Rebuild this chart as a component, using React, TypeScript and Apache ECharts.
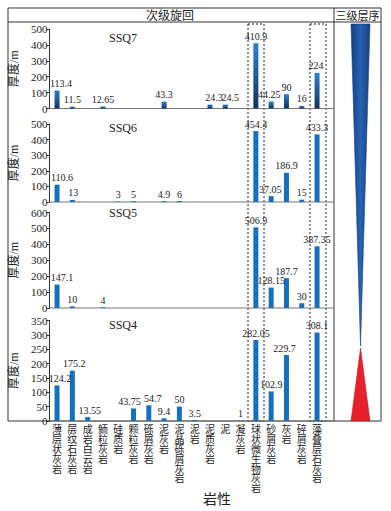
import React, { useEffect, useRef } from "react";
import * as echarts from "echarts";

const categories = [
  "薄层状灰岩", "层纹石灰岩", "成岩白云岩", "鲕粒灰岩", "硅质岩", "颗粒灰岩",
  "砾屑灰岩", "泥灰岩", "泥晶砾屑灰岩", "泥岩", "泥质灰岩", "泥", "凝灰岩",
  "球状微生物灰岩", "砂屑灰岩", "灰岩", "碎屑灰岩", "藻叠层石灰岩",
];

const ssq7 = [113.4, 11.5, null, 12.65, null, null, null, 43.3, null, null, 24.3, 24.5, null, 410.9, 44.25, 90, 16, 224];
const ssq6 = [110.6, 13, null, null, 3, 5, null, 4.9, 6, null, null, null, null, 454.4, 37.05, 186.9, 15, 433.3];
const ssq5 = [147.1, 10, null, 4, null, null, null, null, null, null, null, null, null, 506.9, 128.15, 187.7, 30, 387.35];
const ssq4 = [124.2, 175.2, 13.55, null, null, 43.75, 54.7, 9.4, 50, 3.5, null, null, 1, 282.05, 102.9, 229.7, null, 308.1];

const panelNames = ["SSQ7", "SSQ6", "SSQ5", "SSQ4"];
const yMax = [500, 500, 600, 350];
const yInterval = [100, 100, 100, 50];

// horizontal nudges of value labels (panel -> index -> dx)
const labelNudge: Record<number, Record<number, number>> = {
  0: { 0: 4, 10: 4, 11: 5, 14: -2, 17: -1 },
  1: { 0: 5, 1: 1, 14: -1 },
  2: { 0: 5 },
  3: { 0: 3, 1: 2, 2: 2, 5: -4, 6: 4, 15: -2 },
};

const FONT = "'Liberation Serif', 'Noto Sans CJK SC', serif";

export default function App() {
  const ref = useRef<HTMLDivElement>(null);
  useEffect(() => {
    document.body.style.margin = "0";
    const chart = echarts.init(ref.current!, null, { renderer: "svg" });
    const seriesData = [ssq7, ssq6, ssq5, ssq4];

    const grids = [
      { top: 29, height: 79.5 },
      { top: 124, height: 78 },
      { top: 212.5, height: 95.5 },
      { top: 320.5, height: 100.5 },
    ].map((g) => ({ left: 49.3, width: 275.4, top: g.top, height: g.height }));

    const xAxes = grids.map((_, i) => ({
      type: "category",
      gridIndex: i,
      data: categories,
      axisLine: { show: false },
      axisTick: { show: false },
      axisLabel: {
        show: i === 3,
        interval: 0,
        margin: 4,
        fontFamily: FONT,
        fontSize: 10,
        lineHeight: 9.8,
        color: "#222",
        verticalAlign: "top",
        formatter: (v: string) => v.split("").join("\n"),
      },
    }));

    const yAxes = grids.map((_, i) => ({
      type: "value",
      gridIndex: i,
      min: 0,
      max: yMax[i],
      interval: yInterval[i],
      name: "厚度/m",
      nameLocation: "middle",
      nameGap: 25,
      nameTextStyle: { fontFamily: FONT, fontSize: 12, color: "#222" },
      axisLine: { show: true, lineStyle: { color: "#333", width: 1 } },
      axisTick: { show: true, length: 3, lineStyle: { color: "#333" } },
      axisLabel: { fontFamily: FONT, fontSize: 11, color: "#222", margin: 2 },
      splitLine: { show: false },
    }));

    const series = seriesData.map((d, i) => ({
      type: "bar",
      xAxisIndex: i,
      yAxisIndex: i,
      data: d.map((v, j) => {
        const dx = labelNudge[i][j];
        return dx ? { value: v, label: { offset: [dx, 0] } } : v;
      }),
      barWidth: 5,
      itemStyle: {
        color:
          i === 0
            ? new echarts.graphic.LinearGradient(0, 0, 0, 1, [
                { offset: 0, color: "#2a82d2" },
                { offset: 1, color: "#11325e" },
              ])
            : "#1570c0",
      },
      label: {
        show: true,
        position: "top",
        distance: 2,
        fontFamily: FONT,
        fontSize: 10,
        color: "#222",
      },
    }));

    const sepYs = [108.5, 202, 308, 421];
    const ssqYs = [38, 128, 212.5, 325];

    const graphic: any[] = [
      { type: "rect", shape: { x: 8, y: 8, width: 373, height: 413 }, style: { fill: "none", stroke: "#333", lineWidth: 1 } },
      { type: "line", shape: { x1: 8, y1: 22, x2: 381, y2: 22 }, style: { stroke: "#333", lineWidth: 1 } },
      { type: "line", shape: { x1: 334, y1: 8, x2: 334, y2: 421 }, style: { stroke: "#333", lineWidth: 1 } },
      { type: "text", x: 170, y: 15.5, style: { text: "次级旋回", fontFamily: FONT, fontSize: 12, fill: "#222", align: "center", verticalAlign: "middle" } },
      { type: "text", x: 357.5, y: 15.5, style: { text: "三级层序", fontFamily: FONT, fontSize: 11, fill: "#222", align: "center", verticalAlign: "middle" } },
      { type: "rect", shape: { x: 248, y: 24, width: 16, height: 397 }, style: { fill: "none", stroke: "#222", lineWidth: 1, lineDash: [2, 2] } },
      { type: "rect", shape: { x: 310, y: 24, width: 16, height: 397 }, style: { fill: "none", stroke: "#222", lineWidth: 1, lineDash: [2, 2] } },
      {
        type: "polygon",
        shape: { points: [[351, 24], [370, 24], [360.5, 346]] },
        style: {
          fill: new echarts.graphic.LinearGradient(0, 0, 1, 0, [
            { offset: 0, color: "#183f80" },
            { offset: 0.5, color: "#2563b3" },
            { offset: 1, color: "#183f80" },
          ]),
          stroke: "#1a3f7a",
          lineWidth: 0.6,
        },
      },
      {
        type: "polygon",
        shape: { points: [[360.5, 348], [351, 421], [370, 421]] },
        style: { fill: "#e8202a", stroke: "#b01018", lineWidth: 0.5 },
      },
      { type: "text", x: 217, y: 499, style: { text: "岩性", fontFamily: FONT, fontSize: 14, fill: "#222", align: "center", verticalAlign: "middle" } },
    ];
    sepYs.forEach((y) => {
      graphic.push({ type: "line", shape: { x1: 49.3, y1: y, x2: 334, y2: y }, style: { stroke: "#777", lineWidth: 1 } });
    });
    ssqYs.forEach((y, i) => {
      graphic.push({ type: "text", x: 123, y, style: { text: panelNames[i], fontFamily: FONT, fontSize: 12, fill: "#222", align: "center", verticalAlign: "middle" } });
    });

    chart.setOption({
      animation: false,
      backgroundColor: "#fff",
      grid: grids,
      xAxis: xAxes,
      yAxis: yAxes,
      series,
      graphic,
    });
    return () => chart.dispose();
  }, []);
  return <div ref={ref} style={{ width: 391, height: 511 }} />;
}
